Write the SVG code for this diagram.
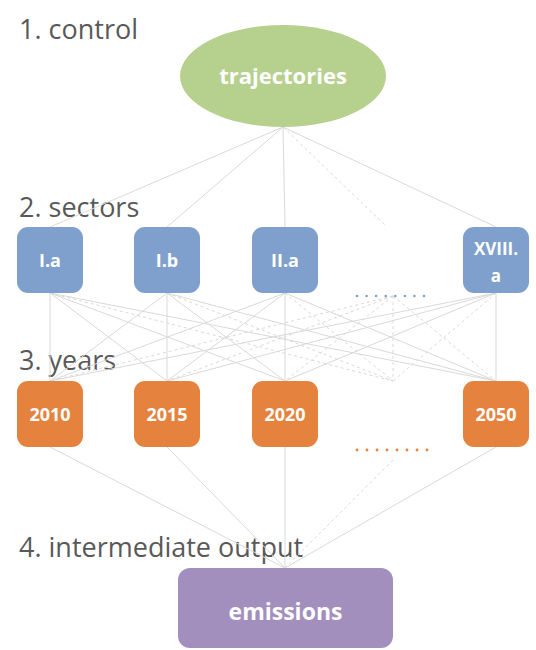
<svg xmlns="http://www.w3.org/2000/svg" width="536" height="650" viewBox="0 0 536 650">
<style>
.lbl{font-family:"Open Sans","Liberation Sans",sans-serif;font-size:27px;fill:#595959}
.nt{font-family:"Open Sans","Liberation Sans",sans-serif;font-weight:bold;fill:#fff;text-anchor:middle}
.sec{fill:#7F9FCC}
.yr{fill:#E5823D}
.c{stroke:#D9D9D9;stroke-width:1;fill:none}
.d{stroke:#D9D9D9;stroke-width:1;fill:none;stroke-dasharray:3 3}
</style>
<rect width="536" height="650" fill="#fff"/>
<g id="labels">
<text class="lbl" x="19" y="39">1. control</text>
<text class="lbl" x="19" y="217">2. sectors</text>
<text class="lbl" x="19" y="370">3. years</text>
<text class="lbl" x="19" y="557">4. intermediate output</text>
</g>
<g id="connectors">
<line class="c" x1="283" y1="127" x2="50" y2="227"/>
<line class="c" x1="283" y1="127" x2="167" y2="227"/>
<line class="c" x1="283" y1="127" x2="285" y2="227"/>
<line class="c" x1="283" y1="127" x2="496" y2="227"/>
<line class="d" x1="283" y1="127" x2="386" y2="226"/>
<g>
<line class="c" x1="50" y1="293" x2="50" y2="381"/>
<line class="c" x1="50" y1="293" x2="167" y2="381"/>
<line class="c" x1="50" y1="293" x2="285" y2="381"/>
<line class="c" x1="50" y1="293" x2="496" y2="381"/>
<line class="c" x1="167" y1="293" x2="50" y2="381"/>
<line class="c" x1="167" y1="293" x2="167" y2="381"/>
<line class="c" x1="167" y1="293" x2="285" y2="381"/>
<line class="c" x1="167" y1="293" x2="496" y2="381"/>
<line class="c" x1="285" y1="293" x2="50" y2="381"/>
<line class="c" x1="285" y1="293" x2="167" y2="381"/>
<line class="c" x1="285" y1="293" x2="285" y2="381"/>
<line class="c" x1="285" y1="293" x2="496" y2="381"/>
<line class="c" x1="496" y1="293" x2="50" y2="381"/>
<line class="c" x1="496" y1="293" x2="167" y2="381"/>
<line class="c" x1="496" y1="293" x2="285" y2="381"/>
<line class="c" x1="496" y1="293" x2="496" y2="381"/>
</g>
<g>
<line class="d" x1="393" y1="296" x2="50" y2="381"/>
<line class="d" x1="393" y1="296" x2="167" y2="381"/>
<line class="d" x1="393" y1="296" x2="285" y2="381"/>
<line class="d" x1="393" y1="296" x2="393" y2="381"/>
<line class="d" x1="393" y1="296" x2="496" y2="381"/>
<line class="d" x1="50" y1="293" x2="393" y2="381"/>
<line class="d" x1="167" y1="293" x2="393" y2="381"/>
<line class="d" x1="285" y1="293" x2="393" y2="381"/>
<line class="d" x1="496" y1="293" x2="393" y2="381"/>
</g>
<line class="c" x1="50" y1="447" x2="285" y2="568"/>
<line class="c" x1="167" y1="447" x2="285" y2="568"/>
<line class="c" x1="285" y1="447" x2="285" y2="568"/>
<line class="c" x1="496" y1="447" x2="285" y2="568"/>
<line class="d" x1="393" y1="460" x2="285" y2="568"/>
</g>
<g id="trajectories">
<ellipse cx="283" cy="76" rx="103" ry="51" fill="#B6D08E"/>
<text class="nt" x="283" y="84" font-size="22">trajectories</text>
</g>
<g id="sector-Ia">
<rect class="sec" x="17" y="227" width="66" height="66" rx="11"/>
<text class="nt" x="50" y="267" font-size="18">I.a</text>
</g>
<g id="sector-Ib">
<rect class="sec" x="134" y="227" width="66" height="66" rx="11"/>
<text class="nt" x="167" y="267" font-size="18">I.b</text>
</g>
<g id="sector-IIa">
<rect class="sec" x="252" y="227" width="66" height="66" rx="11"/>
<text class="nt" x="285" y="267" font-size="18">II.a</text>
</g>
<g id="sector-XVIIIa">
<rect class="sec" x="463" y="227" width="66" height="66" rx="11"/>
<text class="nt" x="496" y="255" font-size="17">XVIII.</text>
<text class="nt" x="496" y="282" font-size="17">a</text>
</g>
<g id="sector-dots" fill="#7F9FCC">
<circle cx="357" cy="296" r="1.3"/><circle cx="366.6" cy="296" r="1.3"/><circle cx="376.1" cy="296" r="1.3"/><circle cx="385.7" cy="296" r="1.3"/><circle cx="395.3" cy="296" r="1.3"/><circle cx="404.9" cy="296" r="1.3"/><circle cx="414.4" cy="296" r="1.3"/><circle cx="424" cy="296" r="1.3"/>
</g>
<g id="year-2010">
<rect class="yr" x="17" y="381" width="66" height="66" rx="11"/>
<text class="nt" x="50" y="421" font-size="18">2010</text>
</g>
<g id="year-2015">
<rect class="yr" x="134" y="381" width="66" height="66" rx="11"/>
<text class="nt" x="167" y="421" font-size="18">2015</text>
</g>
<g id="year-2020">
<rect class="yr" x="252" y="381" width="66" height="66" rx="11"/>
<text class="nt" x="285" y="421" font-size="18">2020</text>
</g>
<g id="year-2050">
<rect class="yr" x="463" y="381" width="66" height="66" rx="11"/>
<text class="nt" x="496" y="421" font-size="18">2050</text>
</g>
<g id="year-dots" fill="#E5823D">
<circle cx="357" cy="450" r="1.4"/><circle cx="367" cy="450" r="1.4"/><circle cx="377" cy="450" r="1.4"/><circle cx="387" cy="450" r="1.4"/><circle cx="397" cy="450" r="1.4"/><circle cx="407" cy="450" r="1.4"/><circle cx="417" cy="450" r="1.4"/><circle cx="427" cy="450" r="1.4"/>
</g>
<g id="emissions">
<rect x="178" y="568" width="215" height="80" rx="12" fill="#A28FBE"/>
<text class="nt" x="285.5" y="620" font-size="23">emissions</text>
</g>
</svg>
